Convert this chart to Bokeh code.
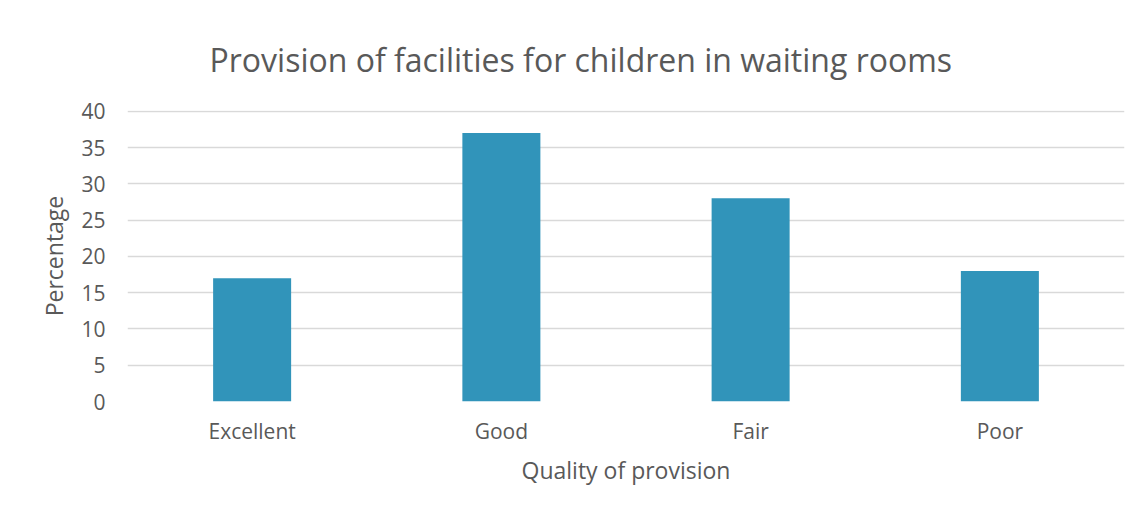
from bokeh.plotting import figure
from bokeh.models import Range1d, FixedTicker
from bokeh.embed import file_html
from bokeh.resources import INLINE

categories = ["Excellent", "Good", "Fair", "Poor"]
values = [17, 37, 28, 18]
y_ticks = [0, 5, 10, 15, 20, 25, 30, 35, 40]

TEXT = "#595959"
FONT = "Open Sans"

p = figure(x_range=categories, y_range=Range1d(0, 40.1), width=1138, height=503,
           output_backend="svg", toolbar_location=None,
           min_border_left=127, min_border_right=14, min_border_top=110, min_border_bottom=102)
p.vbar(x=categories, top=values, width=0.313, color="#3194ba", line_color=None)

p.title.text = "Provision of facilities for children in waiting rooms"
p.title.text_font = FONT
p.title.text_font_size = "32px"
p.title.text_font_style = "normal"
p.title.text_color = TEXT
p.title.align = "left"
p.title.offset = 82
p.title.standoff = 59

p.outline_line_color = None
p.xgrid.grid_line_color = None
p.ygrid.grid_line_color = "#d9d9d9"
p.ygrid.grid_line_width = 1.5
p.yaxis.ticker = FixedTicker(ticks=y_ticks)

for ax in (p.xaxis[0], p.yaxis[0]):
    ax.axis_line_color = None
    ax.major_tick_line_color = None
    ax.minor_tick_line_color = None
    ax.major_label_text_font = FONT
    ax.major_label_text_font_size = "21px"
    ax.major_label_text_color = TEXT
    ax.axis_label_text_font = FONT
    ax.axis_label_text_font_size = "23px"
    ax.axis_label_text_font_style = "normal"
    ax.axis_label_text_color = TEXT

p.xaxis.axis_label = "Quality of provision"
p.yaxis.axis_label = "Percentage"
p.xaxis.major_label_standoff = 9
p.xaxis.axis_label_standoff = 6
p.yaxis.major_label_standoff = 16
p.yaxis.axis_label_standoff = 8

open("out.html", "w").write(file_html(p, INLINE))
